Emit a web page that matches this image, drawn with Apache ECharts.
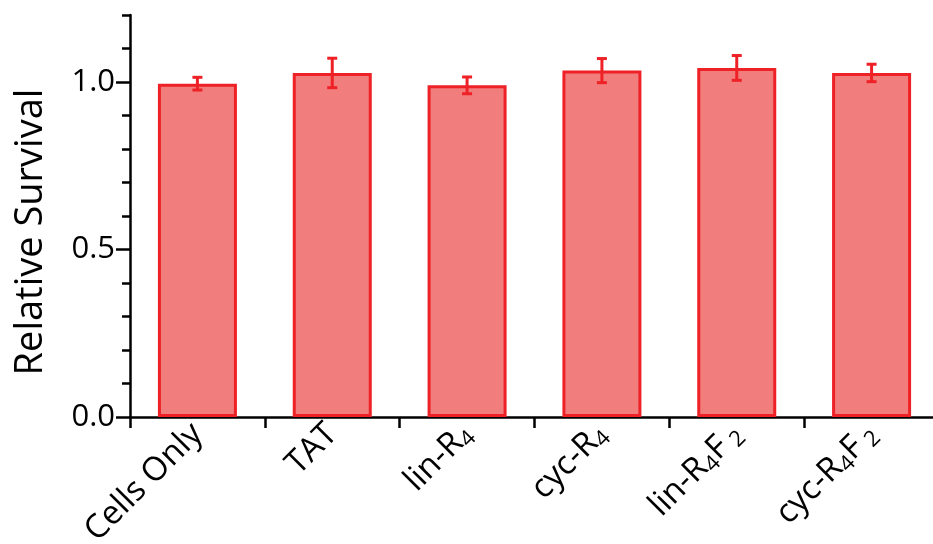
<!DOCTYPE html>
<html><head><meta charset="utf-8">
<script src="https://cdn.jsdelivr.net/npm/echarts@6/dist/echarts.min.js"></script>
<style>html,body{margin:0;padding:0;background:#fff}#c{width:933px;height:544px}</style>
</head><body><div id="c"></div>
<script>
const categories = ['Cells Only', 'TAT', 'lin-R4', 'cyc-R4', 'lin-R4F2', 'cyc-R4F2'];
const tickLabels = ['Cells Only', 'TAT', 'lin-R{s|4}', 'cyc-R{s|4}', 'lin-R{s|4}F{s| 2}', 'cyc-R{s|4}F{s| 2}'];
const survival = [0.995, 1.027, 0.99, 1.034, 1.042, 1.027];
const errors = [0.019, 0.044, 0.025, 0.036, 0.037, 0.026];
const yTicks = [0, 0.5, 1.0];

const FONT = '"Open Sans", "DejaVu Sans", sans-serif';
const RED = '#EE2126';
const chart = echarts.init(document.getElementById('c'), null, {renderer: 'canvas'});
const errData = categories.map((c, i) => [i, survival[i], errors[i]]);

chart.setOption({
  animation: false,
  backgroundColor: '#fff',
  grid: {left: 130, right: -6, top: 15, bottom: 127, containLabel: false, outerBoundsMode: 'none'},
  xAxis: {
    type: 'category',
    data: categories,
    axisLine: {lineStyle: {color: '#000', width: 2.5}},
    axisTick: {show: true, length: 11, lineStyle: {color: '#000', width: 2.5}},
    axisLabel: {
      rotate: 45, fontSize: 33, color: '#000', fontFamily: FONT, margin: 12,
      formatter: (v, i) => tickLabels[i],
      rich: {s: {fontSize: 22, fontFamily: FONT, color: '#000', verticalAlign: 'bottom', padding: [16, 0, 0, 0]}}
    },
    splitLine: {show: false}
  },
  yAxis: [{
    type: 'value', min: 0, max: 1.2, interval: 0.1, position: 'left',
    axisLine: {show: true, lineStyle: {color: '#000', width: 2.5}},
    axisTick: {show: true, length: 8, lineStyle: {color: '#000', width: 2.5}},
    axisLabel: {show: false},
    splitLine: {show: false},
    name: 'Relative Survival', nameLocation: 'middle', nameGap: 80,
    nameTextStyle: {fontSize: 38, color: '#000', fontFamily: FONT, padding: [0, 32, 0, 0]}
  }, {
    type: 'value', min: 0, max: 1.2, interval: 0.1, position: 'left',
    axisLine: {show: false},
    axisTick: {show: true, length: 14, customValues: yTicks, lineStyle: {color: '#000', width: 2.5}},
    axisLabel: {show: true, customValues: yTicks, fontSize: 31, color: '#000', fontFamily: FONT, margin: 15,
      formatter: v => v.toFixed(1)},
    splitLine: {show: false}
  }],
  series: [{
    type: 'bar', data: survival, barWidth: 79, yAxisIndex: 0,
    itemStyle: {color: '#F27D7D', borderColor: RED, borderWidth: 3}
  }, {
    type: 'custom', data: errData, yAxisIndex: 0, z: 5,
    renderItem: (params, api) => {
      const x = api.value(0), v = api.value(1), e = api.value(2);
      const top = api.coord([x, v + e]);
      const bot = api.coord([x, v - e]);
      const hw = 5;
      const st = {stroke: RED, lineWidth: 3};
      return {type: 'group', children: [
        {type: 'line', shape: {x1: top[0], y1: top[1], x2: bot[0], y2: bot[1]}, style: st},
        {type: 'line', shape: {x1: top[0] - hw, y1: top[1], x2: top[0] + hw, y2: top[1]}, style: st},
        {type: 'line', shape: {x1: bot[0] - hw, y1: bot[1], x2: bot[0] + hw, y2: bot[1]}, style: st}
      ]};
    }
  }]
});
</script></body></html>
